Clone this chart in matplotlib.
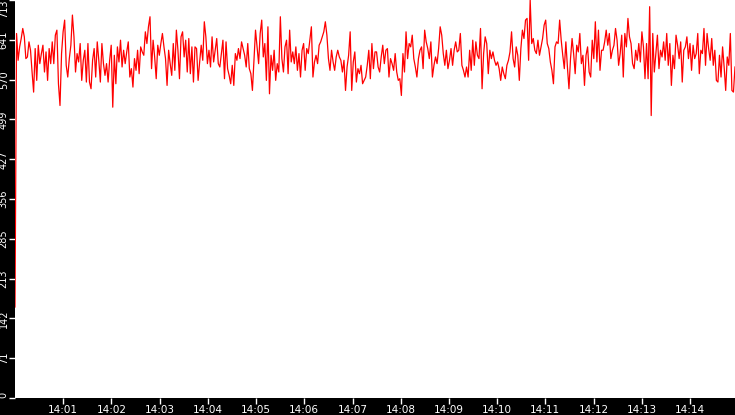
import matplotlib
matplotlib.use("Agg")
import matplotlib.pyplot as plt
import matplotlib.dates as mdates
import numpy as np
import pandas as pd

# readings, left to right (about one every 2 s between 14:00:00 and 14:14:56)
seg1 = [163,
        653, 605, 629, 644, 662, 647, 608, 611, 638, 623,
        584, 548, 626, 569, 632, 599, 617, 632, 584, 620,
        569, 626, 599, 638, 599, 650, 659, 563, 524, 617,
        656, 677, 596, 575, 608, 632, 686, 647, 584, 617,
        602, 635, 569, 605, 623, 566, 635, 566, 554, 605,
        626, 575, 638, 605, 566, 635, 599, 578]
seg2 = [599, 566, 605, 632, 521, 614, 563, 629, 602, 641,
        593, 623, 599, 620, 638, 575, 590, 557, 608, 587,
        623, 581, 629, 620, 614, 656, 635, 665, 683, 590,
        641, 611, 572, 632, 614, 635, 653, 629, 608, 560,
        623, 599, 578, 635, 587, 659, 623, 572, 647, 656,
        611, 641, 584, 644, 581, 629, 566, 629]
seg3 = [626, 569, 602, 632, 605, 674, 647, 599, 623, 593,
        647, 602, 623, 644, 599, 593, 617, 641, 572, 638,
        590, 578, 563, 596, 560, 617, 605, 626, 608, 638,
        626, 614, 593, 635, 590, 581, 551, 605, 659, 629,
        599, 653, 677, 611, 635, 569, 665, 545, 614, 587,
        623, 569, 599, 584, 683, 608, 584, 629]
seg4 = [641, 581, 659, 602, 620, 599, 629, 587, 617, 575,
        623, 635, 587, 626, 617, 641, 665, 575, 602, 614,
        599, 632, 638, 647, 656, 674, 650, 608, 587, 623,
        602, 587, 611, 623, 611, 605, 584, 605, 551, 593,
        614, 656, 551, 602, 620, 566, 590, 581, 596, 563,
        569, 575, 596, 623, 572, 635, 590, 620]
seg5 = [620, 593, 584, 611, 632, 599, 623, 626, 575, 608,
        599, 587, 617, 584, 569, 572, 542, 617, 584, 656,
        608, 635, 629, 650, 608, 593, 575, 608, 623, 629,
        590, 659, 638, 626, 608, 638, 575, 596, 611, 599,
        626, 665, 650, 617, 596, 623, 590, 605, 626, 596,
        623, 638, 620, 623, 653, 596, 587, 575]
seg6 = [593, 575, 623, 587, 641, 596, 638, 614, 608, 662,
        554, 617, 647, 635, 581, 623, 608, 620, 605, 596,
        602, 590, 569, 593, 581, 572, 596, 605, 620, 656,
        608, 593, 629, 614, 569, 626, 659, 644, 677, 680,
        605, 713, 635, 644, 623, 617, 641, 614, 629, 644,
        668, 677, 635, 626, 602, 587, 563, 629]
seg7 = [638, 635, 677, 641, 614, 590, 638, 593, 554, 608,
        644, 617, 581, 632, 620, 653, 599, 614, 560, 614,
        629, 584, 575, 641, 608, 674, 602, 659, 587, 623,
        623, 638, 659, 632, 653, 608, 623, 632, 662, 641,
        596, 617, 650, 575, 653, 629, 680, 647, 635, 599,
        590, 623, 605, 635, 602, 656, 629, 572]
seg8 = [635, 572, 701, 506, 653, 584, 617, 650, 590, 623,
        611, 638, 605, 653, 596, 635, 560, 614, 590, 650,
        632, 608, 638, 566, 623, 629, 647, 608, 635, 587,
        632, 608, 617, 653, 581, 623, 617, 662, 596, 653,
        626, 605, 644, 596, 623, 569, 566, 614, 575, 629,
        593, 551, 611, 596, 653, 551, 548, 593]

values = np.array(seg1 + seg2 + seg3 + seg4 + seg5 + seg6 + seg7 + seg8)
times = pd.date_range("2024-01-01 14:00:00", "2024-01-01 14:14:56", periods=len(values))

y_max = 713
y_ticks = np.arange(11) * y_max / 10
y_labels = ['0', '71', '142', '213', '285', '356', '427', '499', '570', '641', '713']

fig = plt.figure(figsize=(7.35, 4.15), dpi=100, facecolor='black')
ax = fig.add_axes([15/735, 17/415, 720/735, 398/415])
ax.set_facecolor('white')
ax.plot(times, values, color='#ff0000', lw=0.9)

ax.set_xlim(times[0], times[-1])
ax.set_ylim(0, y_max)
ax.set_yticks(y_ticks)
ax.set_yticklabels(y_labels, rotation=90, va='center')
# keep the end labels inside the figure
ax.get_yticklabels()[-1].set_va('top')
ax.get_yticklabels()[0].set_va('bottom')
ax.xaxis.set_major_locator(mdates.MinuteLocator(byminute=range(1, 15)))
ax.xaxis.set_major_formatter(mdates.DateFormatter('%H:%M'))

for s in ax.spines.values():
    s.set_visible(False)
ax.tick_params(axis='both', colors='white', labelcolor='white', labelsize=7.5,
               length=4, width=1, direction='out')
ax.tick_params(axis='y', labelsize=7, pad=0.5)
ax.tick_params(axis='x', pad=1)

fig.savefig('out.png', dpi=100, facecolor='black')
